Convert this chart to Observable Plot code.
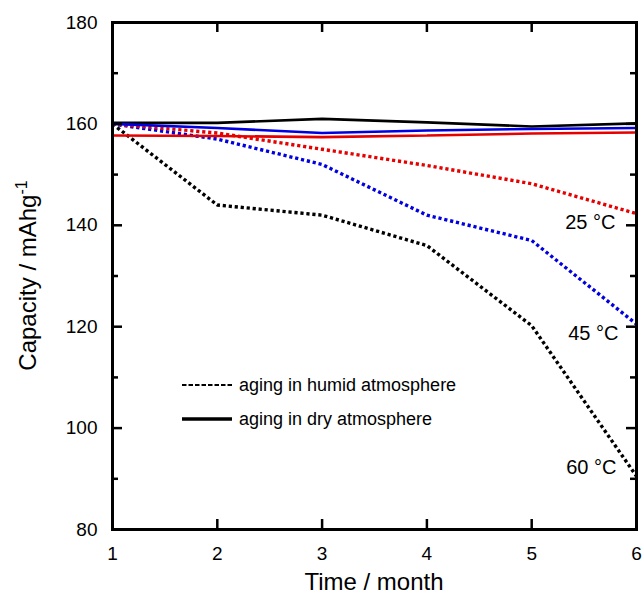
<!DOCTYPE html>
<html><head><meta charset="utf-8">
<script src="https://cdn.jsdelivr.net/npm/d3@7"></script>
<script src="https://cdn.jsdelivr.net/npm/@observablehq/plot@0.6"></script>
<style>body{margin:0;background:#fff} #chart{width:644px;height:596px}</style>
</head><body><div id="chart"></div>
<script>
const months = [1, 2, 3, 4, 5, 6];
const humid60 = [160, 144, 142, 136, 120.2, 90.5];
const humid45 = [160, 157, 152, 142, 137, 120.5];
const humid25 = [160, 158.2, 155, 151.8, 148.2, 142.3];
const dry60 = [160.2, 160.2, 161, 160.3, 159.5, 160.1];
const dry45 = [160, 159.2, 158.2, 158.7, 159, 159.2];
const dry25 = [157.7, 157.6, 157.4, 157.7, 158.1, 158.3];
const xTicks = [1, 2, 3, 4, 5, 6];
const yMajor = [80, 100, 120, 140, 160, 180];
const yMinor = [90, 110, 130, 150, 170];
const tempLabels = ["60 °C", "45 °C", "25 °C"];
const legendLabels = ["aging in humid atmosphere", "aging in dry atmosphere"];

const RED = "#e60000", BLUE = "#0000e0", BLACK = "#000000";
const series = [
  {key: "humid60", values: humid60, color: BLACK, dotted: true},
  {key: "humid45", values: humid45, color: BLUE, dotted: true},
  {key: "humid25", values: humid25, color: RED, dotted: true},
  {key: "dry60", values: dry60, color: BLACK, dotted: false},
  {key: "dry45", values: dry45, color: BLUE, dotted: false},
  {key: "dry25", values: dry25, color: RED, dotted: false}
];
const rows = s => months.map((m, i) => ({x: m, y: s.values[i]}));

const W = 644, H = 596, mL = 112, mR = 8, mT = 22, mB = 67;
const pw = W - mL - mR, ph = H - mT - mB;
const FONT = "'Liberation Sans', Arial, Helvetica, sans-serif";

const lineMarks = series.map(s => Plot.line(rows(s), {
  x: "x", y: "y", stroke: s.color,
  strokeWidth: s.dotted ? 3.4 : 2.6,
  strokeDasharray: s.dotted ? "3.2,2.8" : null,
  strokeLinecap: "butt",
  strokeLinejoin: "miter"
}));

const labelRows = [
  {x: months[5], y: humid60[5], t: tempLabels[0], dx: -20, dy: -9},
  {x: months[5], y: humid45[5], t: tempLabels[1], dx: -18, dy: 9},
  {x: months[5], y: humid25[5], t: tempLabels[2], dx: -21, dy: 9}
];

const plot = Plot.plot({
  width: W, height: H,
  marginLeft: mL, marginRight: mR, marginTop: mT, marginBottom: mB,
  style: {fontFamily: FONT, background: "white", color: "black", overflow: "visible"},
  x: {domain: [1, 6]},
  y: {domain: [80, 180]},
  marks: [
    Plot.axisX({ticks: xTicks, tickSize: 0, tickPadding: 17, fontSize: 19, label: null, tickFormat: d => String(d)}),
    Plot.axisY({ticks: yMajor, tickSize: 0, tickPadding: 15, fontSize: 19, label: null, tickFormat: d => String(d)}),
    ...lineMarks,
    Plot.ruleX(xTicks, {x: d => d, insetTop: ph - 10, strokeWidth: 2.5}),
    Plot.ruleX(xTicks, {x: d => d, insetBottom: ph - 10, strokeWidth: 2.5}),
    Plot.ruleY(yMajor, {y: d => d, insetRight: pw - 10, strokeWidth: 2.5}),
    Plot.ruleY(yMajor, {y: d => d, insetLeft: pw - 10, strokeWidth: 2.5}),
    Plot.ruleY(yMinor, {y: d => d, insetRight: pw - 6, strokeWidth: 2.5}),
    Plot.ruleY(yMinor, {y: d => d, insetLeft: pw - 6, strokeWidth: 2.5}),
    Plot.frame({stroke: "black", strokeWidth: 3}),
    Plot.text(labelRows, {x: "x", y: "y", text: "t", textAnchor: "end", fontSize: 20, fill: "black"})
  ]
});

const svg = d3.select(plot);
svg.selectAll("g[aria-label='text'] text").each(function(d, i) {
  const r = labelRows[i];
  const t = d3.select(this);
  const tr = t.attr("transform") || "";
  t.attr("transform", tr + ` translate(${r.dx},${r.dy})`);
});

svg.append("text")
  .attr("x", mL + pw / 2).attr("y", H - 6)
  .attr("text-anchor", "middle")
  .attr("font-family", FONT).attr("font-size", 24).attr("fill", "black")
  .text("Time / month");
const yt = svg.append("text")
  .attr("transform", `translate(36,${mT + ph / 2}) rotate(-90)`)
  .attr("text-anchor", "middle")
  .attr("font-family", FONT).attr("font-size", 24).attr("fill", "black");
yt.append("tspan").text("Capacity / mAhg");
yt.append("tspan").attr("dy", -9).attr("font-size", 16).text("-1");

const lg = svg.append("g").attr("font-family", FONT).attr("font-size", 18).attr("text-anchor", "start");
const legendItems = [
  {label: legendLabels[0], dash: "4.5,2", w: 2.2, y: 385},
  {label: legendLabels[1], dash: null, w: 3.6, y: 419}
];
legendItems.forEach(it => {
  lg.append("line").attr("x1", 182).attr("x2", 232).attr("y1", it.y).attr("y2", it.y)
    .attr("stroke", "black").attr("stroke-width", it.w).attr("stroke-dasharray", it.dash);
  lg.append("text").attr("x", 239).attr("y", it.y).attr("dy", "0.35em").attr("fill", "black").attr("text-anchor", "start").text(it.label);
});

document.getElementById("chart").appendChild(plot);
</script>
</body></html>
